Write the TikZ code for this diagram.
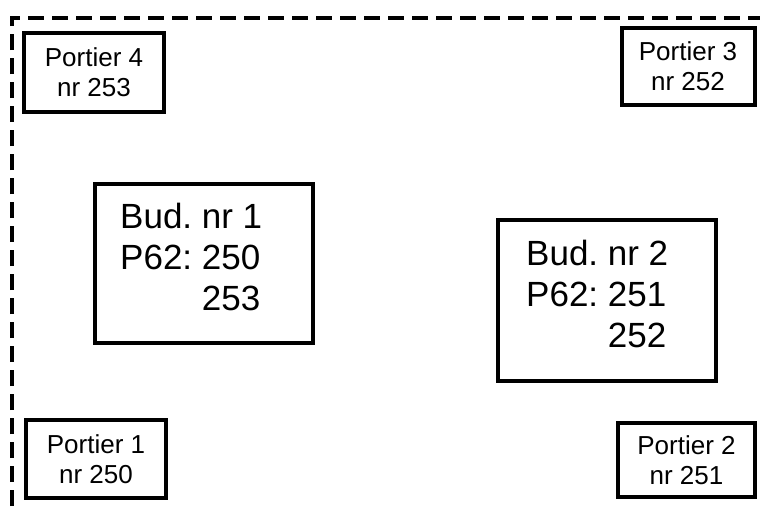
\documentclass[tikz,border=0pt]{standalone}
\usepackage{fontspec}
\setmainfont{Liberation Sans}
\usetikzlibrary{positioning}
\frenchspacing

\begin{document}
\begin{tikzpicture}[
        x=1pt, y=-1pt,
        every node/.style={anchor=center},
        portier/.style={rectangle, draw=black, line width=4pt, fill=white,
                        align=center, inner sep=0pt,
                        font=\fontsize{26}{30}\selectfont},
        bldg/.style={rectangle, draw=black, line width=4pt, fill=white,
                     minimum width=218pt, inner sep=0pt},
        bldgtxt/.style={align=left, inner sep=0pt,
                        font=\fontsize{35}{41}\selectfont},
        border/.style={draw=black, line width=3.5pt, dash pattern=on 16pt off 8pt}
    ]
        \useasboundingbox (0,0) rectangle (760,506);
        \fill[white] (0,0) rectangle (760,506);

        % site border
        \draw[border] (12,506) -- (12,18) -- (760,18);

        % gates
        \node[portier, minimum width=140pt, minimum height=79pt] (p4) at (94,72)    {Portier 4\\nr 253};
        \node[portier, minimum width=133pt, minimum height=77pt] (p3) at (688,66.5) {Portier 3\\nr 252};
        \node[portier, minimum width=140pt, minimum height=78pt] (p1) at (96,459)   {Portier 1\\nr 250};
        \node[portier, minimum width=137pt, minimum height=74pt] (p2) at (686.5,460) {Portier 2\\nr 251};

        % buildings
        \node[bldg, minimum height=159pt] (bud1) at (204,263.5) {};
        \node[bldgtxt, right=27pt of bud1.west, yshift=7pt] (bud1txt)
            {Bud. nr 1\\P62: 250\\\hphantom{P62: }253};

        \node[bldg, minimum height=161pt] (bud2) at (607,300.5) {};
        \node[bldgtxt, right=30pt of bud2.west, yshift=7pt] (bud2txt)
            {Bud. nr 2\\P62: 251\\\hphantom{P62: }252};
\end{tikzpicture}
\end{document}
